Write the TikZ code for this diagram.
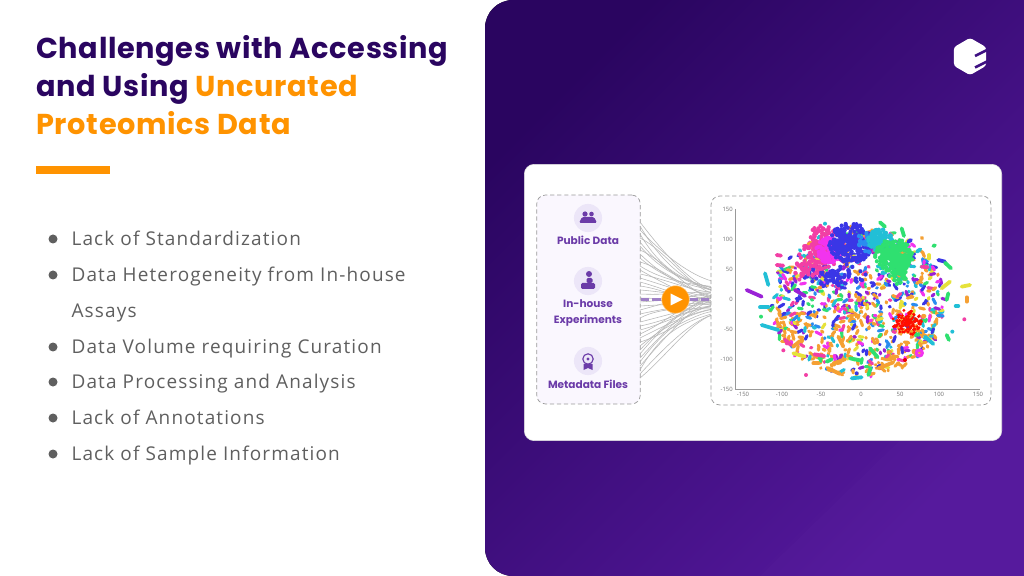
\documentclass[tikz,border=0pt]{standalone}
\usepackage{fontspec}
\usetikzlibrary{positioning,shapes.geometric}
\setmainfont{Open Sans}
\newfontfamily\titlefont[LetterSpace=2.2]{Poppins}
\newfontfamily\labelfont{Poppins}
\newfontfamily\itemfont[LetterSpace=6]{Open Sans}
\definecolor{navy}{HTML}{2A0560}
\definecolor{grape}{HTML}{54189C}
\definecolor{logocut}{HTML}{3E1082}
\definecolor{amber}{HTML}{FF9300}
\definecolor{bodygrey}{HTML}{5F5F5F}
\definecolor{lilac}{HTML}{6B3BA8}
\definecolor{paleLilac}{HTML}{ECE6F8}
\definecolor{panelbg}{HTML}{FAF7FE}
\definecolor{sc0}{HTML}{F5A033}
\definecolor{sc1}{HTML}{22BFD6}
\definecolor{sc2}{HTML}{F23FA5}
\definecolor{sc3}{HTML}{3A36E6}
\definecolor{sc4}{HTML}{2FE070}
\definecolor{sc5}{HTML}{9A22D6}
\definecolor{sc6}{HTML}{E6E23A}
\definecolor{sc7}{HTML}{F5A033}
\definecolor{sc8}{HTML}{F233EE}
\definecolor{sc9}{HTML}{2A8CF0}
\begin{document}
\begin{tikzpicture}[x=0.025cm, y=-0.025cm,
title/.style={anchor=base west, inner sep=0pt, font=\titlefont\bfseries\fontsize{20.45}{24}\selectfont},
dot/.style={circle, fill=bodygrey, minimum size=6.4pt, inner sep=0pt},
item/.style={right=9.6pt of #1, inner sep=0pt, text height=12pt, text depth=3pt, text=bodygrey, font=\itemfont\fontsize{13.5}{15}\selectfont},
source/.style={inner sep=0pt, text=lilac, font=\labelfont\bfseries\fontsize{7.5}{9}\selectfont},
badge/.style={circle, fill=paleLilac, minimum size=20pt, inner sep=0pt},
panel/.style={draw=black!40, densely dashed, line width=0.5pt, rounded corners=6pt},
tick/.style={inner sep=0pt, text=black!55, font=\fontsize{4.2}{5}\selectfont},
stroke/.style={line width=2.7pt, line cap=round},
fan/.style={black!28, line width=0.4pt}]
 \useasboundingbox (0,0) rectangle (1024,576);
 \fill[white] (0,0) rectangle (1024,576);

 % right side
 \fill[left color=navy, right color=grape, shading angle=45]
   (1024,0) [rounded corners=0.7cm] -- (485,0) -- (485,576) [sharp corners] -- (1024,576) -- cycle;
 \fill[white, opacity=0.012] (1024,320) -- (1024,576) -- (760,576) -- cycle;

 % logo
 \node[regular polygon, regular polygon sides=6, shape border rotate=30, fill=white, rounded corners=2pt, minimum size=26.5pt, inner sep=0pt] (logo) at (970,56.5) {};
 \draw[logocut, line width=1.9pt] (logo.center) ++(5,-0.5) -- ++(13,-6.5);
 \draw[logocut, line width=1.9pt] (logo.center) ++(5,11) -- ++(13,-6.5);

 % card
 \node[draw=black!12, fill=white, rounded corners=7pt, minimum width=339.5pt, minimum height=196.5pt, inner sep=0pt] (card) at (763,302.5) {};
 \node[panel, fill=panelbg, minimum width=73.5pt, minimum height=148.5pt, inner sep=0pt] (sources) at (588.5,299.5) {};
 \pgfmathsetseed{77}
 \foreach \i in {0,...,39} {
   \pgfmathsetmacro{\ya}{222+\i*4}
   \pgfmathsetmacro{\yb}{299+(\i-19.5)*0.55+(rnd-0.5)*18}
   \pgfmathsetmacro{\yc}{\ya+(299-\ya)*(0.15+rnd*0.5)}
   \coordinate (fanA\i) at (640,\ya);
   \coordinate (fanB\i) at (712,\yb);
   \coordinate (fanC\i) at (664,\yc);
   \coordinate (fanD\i) at (690,{\yb+(\ya-\yb)*0.12});
   \draw[fan] (fanA\i) .. controls (fanC\i) and (fanD\i) .. (fanB\i);
 }
 \node[panel, fill=white, minimum width=199pt, minimum height=148.5pt, inner sep=0pt] (plot) at (851,300.5) {};

 \node[circle, fill=amber, draw=amber!60!white, line width=0.4pt, minimum size=19.5pt, inner sep=0pt] (play) at (675.5,299.5) {};
 \fill[white] (670.5,293.5) -- (682.5,299.5) -- (670.5,305.5) -- cycle;
 \draw[lilac!65, line width=1.9pt, dash pattern=on 6pt off 2.2pt] (sources.east |- play) -- (play);
 \draw[lilac!65, line width=1.9pt, dash pattern=on 6pt off 2.2pt] (play) -- (plot.west |- play);

 % left column
 \node[badge] (pubicon) at (588,218) {};
 \node[source] (pub) at (588,240) {Public Data};
 \node[badge] (labicon) at (588,281) {};
 \node[source] (lab) at (588,304) {In-house};
 \node[source] (exp) at (588,321) {Experiments};
 \node[badge] (metaicon) at (588,361) {};
 \node[source] (meta) at (588,384) {Metadata Files};

 \fill[lilac] (pubicon.center) ++(-3,-4) circle (2.6);
 \fill[lilac] (pubicon.center) ++(3.5,-4) circle (2.3);
 \fill[lilac, rounded corners=1pt] (pubicon.center) ++(-9,5) -- ++(3,-6) -- ++(12,0) -- ++(3,6) -- cycle;
 \fill[lilac] (labicon.center) ++(1,-7) circle (3);
 \fill[lilac, rounded corners=1pt] (labicon.center) ++(-1.5,-3) rectangle ++(6,5);
 \fill[lilac, rounded corners=1pt] (labicon.center) ++(-7,2) rectangle ++(14,6);
 \draw[lilac, line width=0.8pt] (metaicon.center) ++(0,-2) circle (5.2);
 \fill[lilac] (metaicon.center) ++(0,-2) circle (1.6);
 \fill[lilac] (metaicon.center) ++(-4.5,3) -- ++(0,6) -- ++(4.5,-2) -- ++(4.5,2) -- ++(0,-6) -- cycle;

 % axes of the plot
 \coordinate (origin) at (735,389);
 \draw[black!40, line width=0.3pt] (735,209) -- (origin) -- (980,389);
 \foreach \v/\xp in {-150/743,-100/782,-50/821,0/861,50/900,100/939,150/978}
   \node[tick] (xt\xp) at (\xp,394) {\v};
 \foreach \v/\yp in {150/209,100/239,50/269,0/299,-50/329,-100/359,-150/389}
   \node[tick, anchor=east] (yt\yp) at (733,\yp) {\v};

 % scatter
 \pgfmathsetseed{4242}
 \foreach \i in {1,...,860} {
   \pgfmathsetmacro{\ra}{rnd*360}
   \pgfmathsetmacro{\rb}{sqrt(rnd)}
   \pgfmathsetmacro{\px}{858+\rb*88*cos(\ra)}
   \pgfmathsetmacro{\py}{302+\rb*74*sin(\ra)}
   \pgfmathsetmacro{\ang}{rnd*360}
   \pgfmathsetmacro{\len}{0.5+rnd*5.5}
   \pgfmathtruncatemacro{\cc}{(\py>312 && rnd<0.42) ? 0 : int(rnd*9.99)}
   \draw[stroke, line width=2.2pt, color=sc\cc] (\px,\py) -- ++(\ang:\len);
 }
 \foreach \cc/\cx/\cy/\rx/\ry/\num in {sc3/835/275/32/12/70,sc2/806/268/14/16/45,sc2/824/247/20/22/170,sc8/829/250/13/13/120,sc3/851/243/22/20/260,sc9/866/243/10/12/25,sc1/880/240/12/11/110,sc4/894/256/19/17/260,sc4/898/272/10/12/50} {
   \foreach \i in {1,...,\num} {
     \pgfmathsetmacro{\ra}{rnd*360}
     \pgfmathsetmacro{\rb}{rnd^0.7}
     \fill[color=\cc] ({\cx+\rb*\rx*cos(\ra)},{\cy+\rb*\ry*sin(\ra)}) circle (2.1);
   }
 }
 \foreach \i in {1,...,130} {
   \pgfmathsetmacro{\ra}{rnd*360}
   \pgfmathsetmacro{\rb}{rnd}
   \fill[red!90!orange] ({907+\rb*15*cos(\ra)},{323+\rb*13*sin(\ra)}) circle (1.6);
 }
 % outlying runs
 \begin{scope}[shift={(705,190)}, scale=0.3333]
  \foreach \cc/\xa/\ya/\xb/\yb in {sc5/125/300/170/320,sc1/180/250/190/285,sc1/165/352/190/352,sc1/170/405/220/420,
    sc2/215/195/228/197,sc2/215/225/235/227,sc6/265/490/300/500,sc0/325/520/340/520,sc0/385/520/420/508,sc4/435/505/470/512,
    sc0/520/535/565/517,sc0/370/535/405/552,sc1/440/565/470/562,sc4/490/555/497/535,sc1/660/440/685/462,sc4/725/435/732/450,
    sc6/770/290/795/285,sc6/710/295/735/275,sc4/725/330/730/310,sc3/700/210/720/215,sc4/720/218/738/235,sc4/685/168/690/166,
    sc0/650/143/652/145,sc1/636/185/646/178,sc6/672/195/672/206,sc3/610/155/618/150,sc4/590/115/597/138,sc4/525/97/540/110,
    sc2/240/450/258/465,sc2/328/493/358/498,sc4/365/515/380/508,sc4/495/475/518/502,sc0/785/322/785/335,sc1/752/348/760/348,
    sc2/650/230/668/232,sc0/285/453/265/470,sc0/400/440/415/470,sc5/270/300/300/318} {
    \draw[stroke, color=\cc] (\xa,\ya) -- (\xb,\yb);
  }
  \foreach \cc/\xa/\ya in {sc1/360/101,sc2/235/481,sc2/303/555,sc3/455/550,sc2/778/388,sc1/742/425,sc4/168/380} {
    \fill[color=\cc] (\xa,\ya) circle (6);
  }
  \fill[red!90!black] (600,510) circle (6);
  \draw[sc8, line width=2.2pt] (643,489) circle (9);
 \end{scope}

 % left text
 \node[title, text=navy] (head1) at (36,59) {Challenges with Accessing};
 \node[title, text=navy] (head2) at (36,97) {and Using \textcolor{amber}{Uncurated}};
 \node[title, text=amber] (head3) at (36,135) {Proteomics Data};
 \node[fill=amber, minimum width=52.6pt, minimum height=5.6pt, inner sep=0pt] (rule) at (73,170) {};

 \node[dot] (d1) at (53,239) {};
 \node[item=d1] (t1) {Lack of Standardization};
 \node[dot] (d2) at (53,275) {};
 \node[item=d2] (t2) {Data Heterogeneity from In-house};
 \node[dot, fill=none] (d2b) at (53,311) {};
 \node[item=d2b] (t2b) {Assays};
 \node[dot] (d3) at (53,347) {};
 \node[item=d3] (t3) {Data Volume requiring Curation};
 \node[dot] (d4) at (53,382) {};
 \node[item=d4] (t4) {Data Processing and Analysis};
 \node[dot] (d5) at (53,418) {};
 \node[item=d5] (t5) {Lack of Annotations};
 \node[dot] (d6) at (53,454) {};
 \node[item=d6] (t6) {Lack of Sample Information};
\end{tikzpicture}
\end{document}
